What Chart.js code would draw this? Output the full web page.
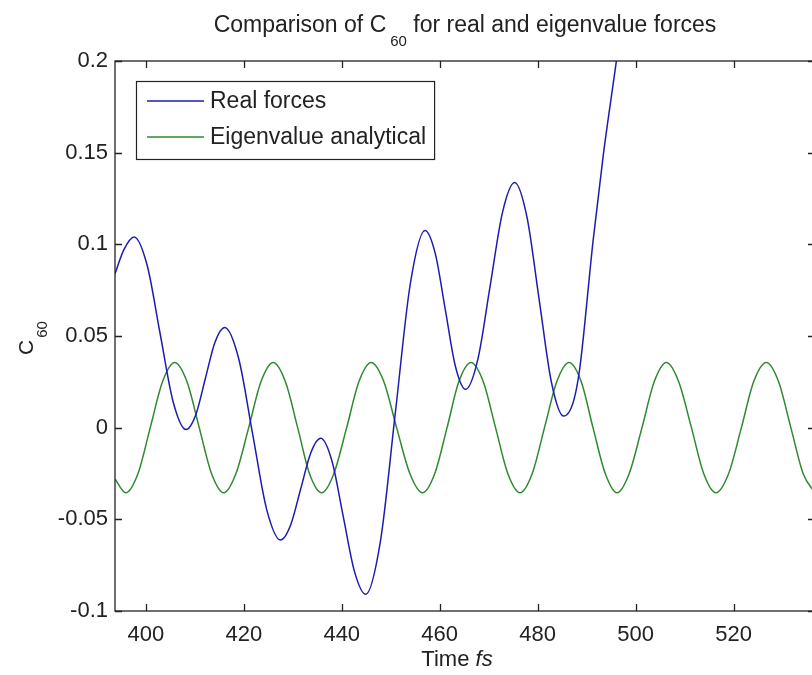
<!DOCTYPE html>
<html>
<head>
<meta charset="utf-8">
<script src="https://cdn.jsdelivr.net/npm/chart.js@4"></script>
<style>
  body { margin: 0; background: #fff; overflow: hidden; }
  #wrap { width: 812px; height: 675px; overflow: hidden; }
</style>
</head>
<body>
<div id="wrap"><canvas id="c60-chart" width="830" height="675"></canvas></div>
<script>
// data (time in fs, C60 value)
const realT = [393.7, 395.5, 397.6, 400.25, 402.9, 405.55, 408.2, 410.2, 412.15, 414.1,
    416.1, 418.95, 421.8, 424.65, 427.5, 429.55, 431.6, 433.65, 435.7, 438.0,
    440.3, 442.6, 444.9, 447.9, 450.95, 454.0, 457.0, 459.1, 461.15, 463.2,
    465.3, 467.8, 470.3, 472.8, 475.3, 477.8, 480.3, 482.8, 485.3, 487.3,
    488.6, 491.3, 493.4, 496.1, 498.5];
const realV = [0.084, 0.097, 0.104, 0.0887, 0.0515, 0.0143, -0.001, 0.0071, 0.0268, 0.0465,
    0.0546, 0.0377, -0.0034, -0.0444, -0.0613, -0.0532, -0.0336, -0.0139, -0.0058, -0.0182,
    -0.0484, -0.0785, -0.0909, -0.0619, 0.0083, 0.0785, 0.1075, 0.0949, 0.0642, 0.0335,
    0.0209, 0.0374, 0.0773, 0.1172, 0.1337, 0.1151, 0.07, 0.0249, 0.0063, 0.0142,
    0.0324, 0.1015, 0.1487, 0.2006, 0.25];

const eigT = [393.7, 395.9, 398.4, 400.9, 403.4, 405.9, 408.4, 410.9, 413.4, 415.9,
    418.4, 421.0, 423.5, 426.0, 428.5, 431.0, 433.4, 435.9, 438.4, 441.0,
    443.5, 446.0, 448.6, 451.2, 453.9, 456.5, 459.0, 461.5, 463.9, 466.4,
    468.9, 471.4, 473.9, 476.4, 478.9, 481.4, 483.9, 486.4, 488.9, 491.3,
    493.8, 496.2, 498.7, 501.3, 503.8, 506.3, 508.8, 511.4, 513.9, 516.4,
    519.0, 521.6, 524.1, 526.7, 529.2, 531.7, 534.2, 536.6];
const eigV = [-0.028, -0.0355, -0.025, 0, 0.025, 0.0355, 0.025, 0, -0.025, -0.0355,
    -0.025, 0, 0.025, 0.0355, 0.025, 0, -0.025, -0.0355, -0.025, 0,
    0.025, 0.0355, 0.025, 0, -0.025, -0.0355, -0.025, 0, 0.025, 0.0355,
    0.025, 0, -0.025, -0.0355, -0.025, 0, 0.025, 0.0355, 0.025, 0,
    -0.025, -0.0355, -0.025, 0, 0.025, 0.0355, 0.025, 0, -0.025, -0.0355,
    -0.025, 0, 0.025, 0.0355, 0.025, 0, -0.025, -0.0355];

const seriesNames = ['Real forces', 'Eigenvalue analytical'];
const xTicks = [400, 420, 440, 460, 480, 500, 520];
const yTicks = [-0.1, -0.05, 0, 0.05, 0.1, 0.15, 0.2];
const yTickLabels = ['-0.1', '-0.05', '0', '0.05', '0.1', '0.15', '0.2'];

const FONT = '"Liberation Sans", Arial, Helvetica, sans-serif';
const INK = '#222';
const BLUE = '#1c1cb0';
const GREEN = '#2f8a2f';

function toPoints(xs, ys) {
    return xs.map((x, i) => ({ x: x, y: ys[i] }));
}

// box, inward ticks, title, axis titles and legend in matlab style
const matlabDecor = {
    id: 'matlabDecor',
    afterDatasetsDraw(chart) {
        const ctx = chart.ctx;
        const a = chart.chartArea;
        const xs = chart.scales.x, ys = chart.scales.y;
        const tl = 7;
        ctx.save();
        ctx.strokeStyle = INK;
        ctx.lineWidth = 1.3;
        ctx.strokeRect(a.left, a.top, a.right - a.left, a.bottom - a.top);
        ctx.beginPath();
        xTicks.forEach(v => {
            const px = Math.round(xs.getPixelForValue(v)) + 0.5;
            ctx.moveTo(px, a.bottom); ctx.lineTo(px, a.bottom - tl);
            ctx.moveTo(px, a.top); ctx.lineTo(px, a.top + tl);
        });
        yTicks.forEach(v => {
            const py = Math.round(ys.getPixelForValue(v)) + 0.5;
            ctx.moveTo(a.left, py); ctx.lineTo(a.left + tl, py);
            ctx.moveTo(a.right, py); ctx.lineTo(a.right - tl, py);
        });
        ctx.stroke();

        // legend
        const lx = 136, ly = 81, rowH = 36;
        ctx.font = '23px ' + FONT;
        const tw = Math.max(...seriesNames.map(s => ctx.measureText(s).width));
        const lw = Math.max(432 - lx, 210 - lx + tw + 8);
        ctx.fillStyle = '#fff';
        ctx.fillRect(lx, ly, lw, 78);
        ctx.lineWidth = 1.2;
        ctx.strokeRect(lx + 0.5, ly + 0.5, lw, 78);
        [BLUE, GREEN].forEach((col, i) => {
            const y = ly + 20 + i * rowH;
            ctx.strokeStyle = col;
            ctx.lineWidth = 1.5;
            ctx.beginPath(); ctx.moveTo(147, y); ctx.lineTo(204, y); ctx.stroke();
            ctx.fillStyle = INK;
            ctx.textBaseline = 'middle';
            ctx.textAlign = 'left';
            ctx.fillText(seriesNames[i], 210, y + 1);
        });

        // title with subscript
        ctx.fillStyle = INK;
        ctx.textBaseline = 'alphabetic';
        ctx.textAlign = 'left';
        const t1 = 'Comparison of C', t2 = '60', t3 = ' for real and eigenvalue forces';
        ctx.font = '23px ' + FONT;
        const w1 = ctx.measureText(t1).width, w3 = ctx.measureText(t3).width;
        ctx.font = '15px ' + FONT;
        const w2 = ctx.measureText(t2).width;
        let tx = (a.left + a.right) / 2 - (w1 + w2 + 4 + w3) / 2;
        ctx.font = '23px ' + FONT;
        ctx.fillText(t1, tx, 32);
        ctx.font = '15px ' + FONT;
        ctx.fillText(t2, tx + w1 + 4, 46);
        ctx.font = '23px ' + FONT;
        ctx.fillText(t3, tx + w1 + 4 + w2, 32);

        // y axis title C60
        ctx.save();
        ctx.translate(33, 338);
        ctx.rotate(-Math.PI / 2);
        ctx.font = '21px ' + FONT;
        const cw = ctx.measureText('C').width;
        ctx.font = '15px ' + FONT;
        const sw = ctx.measureText('60').width;
        const sx = -(cw + sw + 2) / 2;
        ctx.font = '21px ' + FONT;
        ctx.fillText('C', sx, 0);
        ctx.font = '15px ' + FONT;
        ctx.fillText('60', sx + cw + 2, 14);
        ctx.restore();

        // x axis title "Time fs"
        ctx.font = '22px ' + FONT;
        const wt = ctx.measureText('Time ').width;
        ctx.font = 'italic 22px ' + FONT;
        const wf = ctx.measureText('fs').width;
        const xx = (a.left + a.right) / 2 - (wt + wf) / 2 - 8;
        ctx.font = '22px ' + FONT;
        ctx.fillText('Time ', xx, 666);
        ctx.font = 'italic 22px ' + FONT;
        ctx.fillText('fs', xx + wt, 666);
        ctx.restore();
    }
};

const ctx = document.getElementById('c60-chart');
const data = {
    datasets: [{
        label: seriesNames[0],
        data: toPoints(realT, realV),
        borderColor: BLUE,
        borderWidth: 1.5,
        pointRadius: 0,
        cubicInterpolationMode: 'monotone'
    }, {
        label: seriesNames[1],
        data: toPoints(eigT, eigV),
        borderColor: GREEN,
        borderWidth: 1.5,
        pointRadius: 0,
        cubicInterpolationMode: 'monotone'
    }]
};

const config = {
    type: 'line',
    data: data,
    options: {
        responsive: false,
        animation: false,
        events: [],
        layout: { padding: { top: 61, right: 15, left: 0, bottom: 0 } },
        plugins: { legend: { display: false }, title: { display: false }, tooltip: { enabled: false } },
        scales: {
            x: {
                type: 'linear',
                min: 393.7,
                max: 536.63,
                grid: { display: false, drawTicks: false },
                border: { display: false },
                afterBuildTicks: s => { s.ticks = xTicks.map(v => ({ value: v })); },
                afterFit: s => { s.height = 64; },
                ticks: {
                    padding: 11,
                    maxRotation: 0,
                    color: INK,
                    font: { family: FONT, size: 22 },
                    callback: v => String(v)
                }
            },
            y: {
                min: -0.1,
                max: 0.2,
                grid: { display: false, drawTicks: false },
                border: { display: false },
                afterBuildTicks: s => { s.ticks = yTicks.map(v => ({ value: v })); },
                afterFit: s => { s.width = 115; },
                ticks: {
                    padding: 7,
                    color: INK,
                    font: { family: FONT, size: 22 },
                    callback: (v, i) => yTickLabels[i]
                }
            }
        }
    },
    plugins: [matlabDecor]
};

new Chart(ctx, config);
</script>
</body>
</html>
